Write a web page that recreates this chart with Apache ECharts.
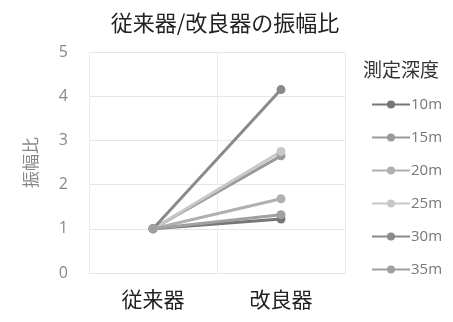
<!DOCTYPE html>
<html><head><meta charset="utf-8">
<script src="https://cdn.jsdelivr.net/npm/echarts@6/dist/echarts.min.js"></script>
<style>html,body{margin:0;padding:0;background:#fff}#c{width:453px;height:322px}</style>
</head><body><div id="c"></div>
<script>
const categories = ['従来器', '改良器'];
const seriesNames = ['10m', '15m', '20m', '25m', '30m', '35m'];
const v10 = [1, 1.22];
const v15 = [1, 2.65];
const v20 = [1, 1.68];
const v25 = [1, 2.75];
const v30 = [1, 4.15];
const v35 = [1, 1.32];
const yTicks = [0, 1, 2, 3, 4, 5];
const values = [v10, v15, v20, v25, v30, v35];
const colors = ['#767676', '#9a9a9a', '#b0b0b0', '#c8c8c8', '#8a8a8a', '#a0a0a0'];
const font = '"Noto Sans CJK JP", "Noto Sans", sans-serif';

const chart = echarts.init(document.getElementById('c'), null, {renderer: 'canvas'});
chart.setOption({
  animation: false,
  title: {
    text: '従来器/改良器の振幅比', left: 220, top: 7, textAlign: 'center',
    textStyle: {fontFamily: font, fontSize: 22, fontWeight: 'normal', color: '#222'}
  },
  legend: {
    orient: 'vertical', left: 366, top: 92,
    itemWidth: 38, itemHeight: 10, itemGap: 18,
    textStyle: {fontFamily: '"Open Sans", sans-serif', fontSize: 15, color: '#777', padding: [0,0,0,-4]},
    data: seriesNames
  },
  graphic: [{
    type: 'text', left: 363, top: 60,
    style: {text: '測定深度', font: '19px "Noto Sans CJK JP"', fill: '#333'}
  }],
  grid: {left: 89, right: 108, top: 52, bottom: 49},
  xAxis: {
    type: 'category', data: categories, boundaryGap: true,
    axisLine: {show: true, lineStyle: {color: '#e6e6e6'}},
    axisTick: {show: false},
    splitLine: {show: true, lineStyle: {color: '#ececec'}},
    axisLabel: {fontFamily: font, fontSize: 21, color: '#222', margin: 16}
  },
  yAxis: {
    type: 'value', min: 0, max: 5, interval: 1,
    name: '振幅比', nameLocation: 'middle', nameGap: 50, nameRotate: 90,
    nameTextStyle: {fontFamily: font, fontSize: 17, color: '#888'},
    axisLine: {show: true, lineStyle: {color: '#ececec'}},
    axisTick: {show: false},
    splitLine: {show: true, lineStyle: {color: '#e6e6e6'}},
    axisLabel: {fontFamily: '"Open Sans", sans-serif', fontSize: 16, color: '#888', margin: 21,
      formatter: v => yTicks.includes(v) ? String(v) : ''}
  },
  series: seriesNames.map((n, i) => ({
    name: n, type: 'line', data: values[i],
    symbol: 'circle', symbolSize: 9,
    lineStyle: {width: 3, color: colors[i]},
    itemStyle: {color: colors[i]}
  }))
});
</script></body></html>
